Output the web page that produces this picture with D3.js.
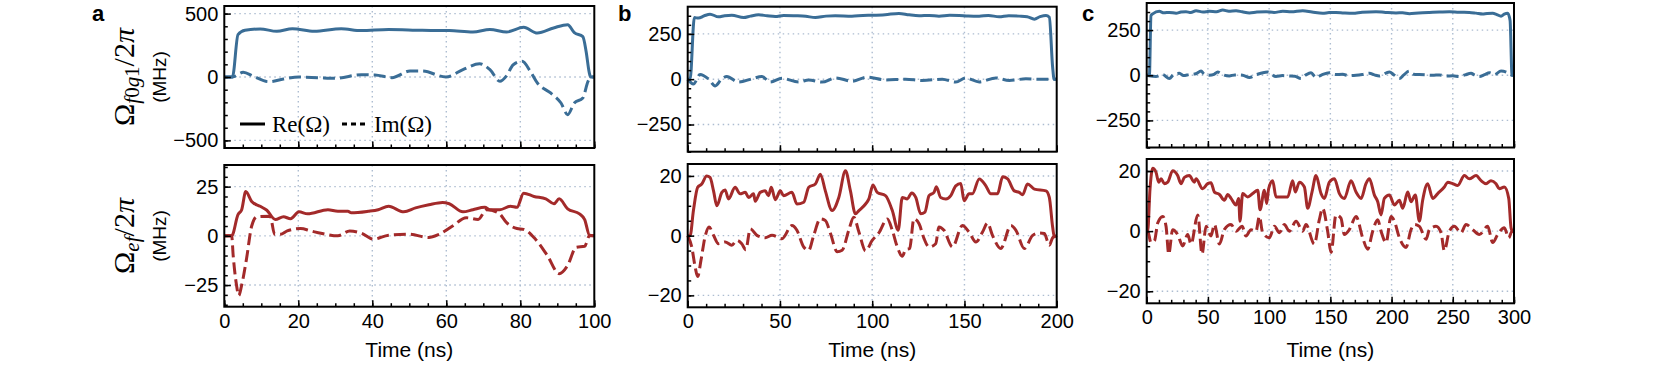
<!doctype html>
<html>
<head>
<script src="https://cdnjs.cloudflare.com/ajax/libs/d3/7.8.5/d3.min.js"></script>
<style>
  body { margin: 0; background: #fff; }
  svg { display: block; font-family: "Liberation Sans", Arial, sans-serif; }
  .grid { stroke: #adbdd1; stroke-width: 1.4; stroke-dasharray: 1.5 3.5; fill: none; }
  .frame { fill: none; stroke: #000; stroke-width: 2; }
  .re { fill: none; stroke-width: 3; }
  .im { fill: none; stroke-width: 3; stroke-dasharray: 12 5; }
  .tick line { stroke: #000; stroke-width: 1.5; }
</style>
</head>
<body>
<svg width="1660" height="368"></svg>
<script>
// ---- data: [time (ns), value (MHz)] ----
var aTopRe = [[0,0],[2.2,0],[3.7,334],[5.6,368],[9.7,379],[14.2,360],[18.4,381],[24.3,360],[31.6,381],[37,366],[44.4,374],[53.5,368],[60.8,366],[67.2,355],[71.8,374],[76.3,355],[80.9,392],[84.6,347],[89,387],[92.8,413],[94.6,350],[96.9,318],[97.8,200],[98.6,40],[99,0],[100,0]];
var aTopIm = [[0,0],[2.2,0],[5.1,37],[7.9,5],[12,-37],[16,-16],[20.2,0],[25.2,-5],[30.2,-10],[37,18],[40.7,16],[45.3,-5],[50.2,47],[53.5,47],[59.9,0],[64.5,58],[69,105],[71.8,58],[74.5,-34],[76.3,10],[78.1,97],[80.5,124],[82.7,45],[84.6,-47],[88.2,-126],[91,-205],[92.8,-297],[94.6,-205],[96.9,-166],[98.3,-34],[99.2,0],[100,0]];
var aBotRe = [[0,0],[2,0],[3.7,10.8],[4.7,13.3],[5.8,22.5],[7.4,17.5],[9.7,15],[11.5,13],[13.8,8.3],[16,9.7],[17.9,8.7],[20.2,12.2],[22.5,11.2],[28,13.3],[30.7,12.5],[33.4,12.5],[34.3,11.7],[38.9,12.5],[41.6,13.3],[44.4,15],[48.5,12.2],[51.7,14.2],[55.3,15.8],[59,17],[60.8,16.3],[64.5,12.2],[67.2,13.3],[70.4,14.5],[71.8,13.3],[74.5,13.3],[77.3,15],[79.1,14.5],[80.9,21.7],[83.7,20],[86.9,18.8],[89.1,16.3],[90.5,18.8],[92.8,13.7],[96,11.2],[97.4,8.3],[98.7,0.3],[100,0]];
var aBotIm = [[0,0],[2,0],[2.4,-10],[3.3,-25],[3.9,-30.3],[4.7,-25],[6,-11.7],[7.4,5],[8.8,9.7],[12.4,10],[13.6,0.8],[15.2,0.8],[17,2.5],[20.6,3.7],[23.4,2.5],[26.1,1.3],[30.7,0],[33.9,2.5],[37.1,1.3],[40.3,-1.7],[44.4,0.3],[49.9,0.8],[55.3,-0.8],[58,0.8],[61.7,5],[65.4,9.2],[68.6,8.3],[70.9,13.3],[74.1,11.7],[76.3,6.7],[79.1,3.7],[80.9,3.3],[84.1,-1.7],[87.3,-10],[90.5,-19.2],[92.8,-15],[95.1,-5.8],[97.4,-5.3],[98.7,0],[100,0]];

var bTopRe = [[0,0],[1.3,0],[3.6,340],[5.8,337],[9,350],[12.1,359],[16.7,344],[20,350],[23.9,353],[30.3,340],[34,348],[38.4,355],[43,350],[47.5,346],[52,352],[58.3,350],[64,347],[69.2,340],[75,348],[80,350],[89,348],[95,352],[100,353],[107,356],[114.5,363],[120,355],[125.4,350],[131,352],[136.2,348],[142,353],[147.1,352],[152,349],[158,348],[163,352],[168.8,344],[174,350],[179.7,348],[184,345],[187.9,331],[191,345],[194.2,352],[196,342],[197.8,66],[198.6,0],[200,0]];
var bTopIm = [[0,0],[3.1,-26],[6.7,26],[11.2,2],[14.9,-37],[18.5,2],[21.2,15],[27.5,-16],[34.8,2],[40.2,15],[44.7,-16],[51.1,5],[60.1,-16],[65.6,-4],[72.8,-16],[80.1,7],[89.1,-11],[97.3,11],[107.2,-4],[118.1,0],[127.2,-7],[138,0],[145.3,-16],[150.7,7],[158,-15],[167,7],[174.3,-7],[183.3,2],[190.6,0],[199.6,0],[200,0]];
var bBotRe = [[0,0],[1.3,0],[3.1,8.4],[5.4,16.2],[7.6,17.3],[10.3,20],[12.1,19.5],[14,15],[15.8,10],[18.5,14.5],[20.3,15.3],[22.1,12.3],[25.7,16.2],[28.4,14],[31.2,14.5],[33,12.8],[35.7,14],[36.6,11.5],[39.3,14.5],[42,15],[43.8,13.4],[45.3,16.2],[47.5,12],[50.2,15],[52,13.4],[56.5,14.5],[59.2,10.6],[62.9,11.2],[65.6,16.2],[69.2,17.3],[71.9,20.6],[74.6,15],[78.3,8.4],[81.9,12.8],[85.5,21.7],[88.2,15],[90.9,7.3],[92.8,8.4],[96.4,10.6],[98.2,12.3],[100.4,17],[102.7,14.5],[107.2,13.4],[110.9,8.4],[114.1,1.8],[116.3,12.8],[119,12.3],[121.4,14.3],[123.6,12.8],[126.3,7.3],[128.6,7.9],[130.8,13.4],[133.5,14.5],[134.8,16.4],[137.1,12.8],[139.9,12.3],[142.6,13.4],[145.3,16.7],[148,17.5],[149.8,11.7],[152.5,14],[154.3,14],[158,19],[161.6,16.7],[164.3,14],[167.9,14],[170.7,19.7],[173.4,19],[177,15],[179.7,14.5],[181.5,13.7],[184.2,17.3],[187.9,15.6],[194.2,15],[196,12.8],[197.8,2.9],[198.7,-0.4],[200,0]];
var bBotIm = [[0,0],[2.2,-3.8],[4,-10.4],[5.4,-13.7],[7.2,-8.2],[9.4,-0.4],[11.6,2.9],[14,0.1],[16.7,-2.7],[20.3,-2.1],[23.9,-3.2],[26.6,-1.6],[29.3,-2.7],[31.5,-4.7],[33.9,2.3],[37.5,0.1],[42,-0.7],[45.7,0.1],[51.1,-1],[56.5,3.4],[59.2,1.8],[62.9,-3.8],[65.6,-4.9],[68.3,0.1],[71.9,5.6],[74.6,5.1],[77.4,0.7],[81,-5.4],[83.7,-4.9],[87.3,1.8],[90,6.2],[92.8,1.2],[96.4,-5.1],[100,-1.6],[103.6,0.9],[108.2,5.6],[110.9,1.8],[113.6,-3.8],[116.3,-6.9],[118.1,-4.7],[120.3,-4.3],[122.6,5.6],[125.4,4],[128.1,-1],[130.8,-3.8],[134.4,-2.7],[136.2,2.9],[138.9,1.8],[143.5,-3.8],[148.9,3.4],[152.5,1.2],[156.2,-2.1],[159.8,1.2],[162.5,4.2],[165.2,0.1],[169.7,-4.3],[175.2,3.4],[177.9,1.8],[182.4,-4.3],[187,0.1],[190.6,0.9],[193.3,0.7],[196,-3.2],[197.8,-0.7],[199.6,0],[200,0]];

var cTopRe = [[0,0],[2.2,0],[3.5,330],[4.9,340],[10.3,354],[14,346],[18.5,348],[24,343],[28,350],[32.1,352],[36,347],[40.3,357],[46,350],[51.2,354],[57,352],[62.1,361],[67,355],[73,357],[78,351],[83.9,345],[90,350],[97.5,352],[104,348],[111.1,354],[118,351],[127.4,357],[135,350],[143.7,343],[149,347],[154.6,348],[161,345],[168.3,343],[176,349],[187.3,352],[195,348],[203.6,345],[209,346],[214.5,341],[222,345],[230.9,348],[239,350],[247.2,352],[255,349],[263.5,348],[269,344],[274.4,339],[278,342],[282.6,343],[286,336],[289.4,327],[292,338],[294.8,343],[296.8,303],[298.4,0],[300,0]];
var cTopIm = [[0,0],[2,-3],[7.6,-7],[13,4],[18.5,-18],[22,4],[26.7,11],[30,-2],[34.8,4],[40,8],[44.4,23],[47,6],[51.2,0],[55,5],[58,18],[62,4],[67.5,-4],[72,2],[78.4,0],[83.9,-13],[89,2],[94,12],[98.8,18],[105.6,-7],[111,-2],[116.5,-4],[121,-6],[126,-18],[130,2],[134.2,14],[138.3,-13],[143,2],[149.2,14],[154,4],[160.1,5],[165,-2],[171,0],[176,4],[181.9,11],[186,2],[190,-4],[198.2,18],[202,2],[206.4,-18],[210,2],[214.5,23],[218,6],[222.7,4],[228,2],[233.6,0],[239,2],[244.5,-4],[250,-3],[255.4,-7],[260,2],[264.9,11],[268,0],[271.7,-7],[276,3],[279.9,14],[284,4],[289.4,23],[294.8,14],[298.4,0],[300,0]];
var cBotRe = [[0,0],[0.8,0],[2.7,14],[4.9,20.9],[7.6,19.6],[9.8,16.3],[11.7,17.4],[14.4,15.8],[17.2,16.3],[21.2,20.1],[25.3,18.5],[28,15.8],[30.8,17.9],[34.8,18.5],[38.9,16.3],[40.3,17.4],[45.7,14.1],[49.8,15.8],[52.5,16.1],[55.3,13],[59.4,12.2],[63.4,10.3],[66.2,12.2],[68.9,10.9],[73,8.7],[75.1,10.9],[76.2,3.3],[78.4,12.5],[82.5,11.4],[86.6,12.5],[90.7,13.6],[92.6,7.1],[96.1,13.6],[98,9.2],[99.6,14.1],[102.9,16.8],[105.6,11.4],[111.1,11.4],[115.2,11.4],[119.2,16.8],[121.4,13],[124.7,16.3],[128.8,14.7],[131.5,7.6],[135,13],[138.3,18.5],[142.4,12.5],[145.1,10.9],[149.2,16.3],[153.3,17.4],[157.4,12.5],[161.4,10.9],[166.9,16.8],[171,13],[175.1,10.9],[179.1,15.8],[181.9,17.4],[186,12],[188.7,9.8],[191.4,5.4],[194.1,10.9],[198.2,12],[202.3,8.7],[206.4,10.3],[209.1,7.6],[213.2,13],[215.9,9.8],[219.4,12],[222.7,3.3],[225.4,10.3],[229.5,15.8],[233.6,10.9],[237.7,12.5],[243.1,14.7],[245.9,16.3],[249.9,15.8],[254,15.2],[259.5,18.5],[263.5,17.4],[269,18.5],[273.1,16.8],[277.2,15.8],[281.2,16.8],[285.3,15.8],[288,14.1],[292.1,14.7],[295.7,10.9],[297.6,1.1],[298.9,0],[300,0]];
var cBotIm = [[0,0],[0.8,0],[3.5,-3.8],[6.3,-3.3],[9,2.7],[13.1,4.9],[15.8,1.6],[18,-7.6],[21.2,0.5],[25.3,-1.1],[29.4,-4.9],[33.5,-1.1],[36.2,-4.3],[41.7,5.4],[45.2,-7.6],[48.5,1.6],[52.5,-1.6],[55.3,2.2],[59.4,-4.3],[63.4,0.5],[68.9,2.2],[73,0],[77.9,1.6],[81.1,-1.6],[85.2,0.5],[89.3,0],[92,4.9],[94.7,-0.5],[100.2,-2.2],[104.3,1.6],[108.4,-0.5],[112.4,2.2],[116.5,0],[122,3.3],[127.4,0],[130.1,2.2],[136.9,-4.3],[141,3.8],[143.7,7.6],[147.8,0],[150.6,-7.1],[154.6,5.4],[158.7,4.3],[161.4,-1.1],[165.5,0.5],[171,4.9],[176.4,-2.2],[180.5,-6],[184.6,0],[188.7,3.8],[191.4,0],[195.5,-3.8],[199.6,4.9],[202.3,3.3],[206.4,-2.2],[211.8,-5.4],[215.9,0.5],[218.7,2.2],[222.7,1.6],[228.2,-2.7],[230.9,0.5],[236.3,1.6],[240.4,-0.5],[243.1,-6.5],[247.2,0],[251.3,1.6],[256.7,-0.5],[260.8,2.2],[266.3,0.5],[271.7,-1.1],[278.5,1.6],[282.6,-3.8],[286.7,-1.1],[292.1,1.1],[295.7,-2.2],[298.4,0],[300,0]];

// tick values
var aXTicks = [0, 20, 40, 60, 80, 100];
var bcXTicks = [0, 50, 100, 150, 200, 250, 300];
var aTopYTicks = [-500, 0, 500];
var bcTopYTicks = [-250, 0, 250];
var aBotYTicks = [-25, 0, 25];
var bcBotYTicks = [-20, 0, 20];

var blue = "#3a6d96", red = "#a32a2a";
var svg = d3.select("svg");

function drawPanel(p) {
  var x = d3.scaleLinear().domain(p.xDomain).range([p.left, p.right]);
  var y = d3.scaleLinear().domain(p.yDomain).range([p.bottom, p.top]);
  var g = svg.append("g");
  var xMaj = p.xTicks.filter(v => v >= p.xDomain[0] && v <= p.xDomain[1]);

  // grid
  g.selectAll(null).data(xMaj.filter(v => v > p.xDomain[0] && v < p.xDomain[1])).join("line")
    .attr("class", "grid").attr("x1", d => x(d)).attr("x2", d => x(d))
    .attr("y1", p.top).attr("y2", p.bottom);
  g.selectAll(null).data(p.yTicks).join("line")
    .attr("class", "grid").attr("y1", d => y(d)).attr("y2", d => y(d))
    .attr("x1", p.left).attr("x2", p.right);

  var line = d3.line().x(d => x(d[0])).y(d => y(d[1])).curve(d3.curveMonotoneX);
  g.append("path").datum(p.im).attr("class", "im").attr("stroke", p.color).attr("d", line);
  g.append("path").datum(p.re).attr("class", "re").attr("stroke", p.color).attr("d", line);

  // axes, ticks inward
  var xMinor = d3.range(p.xDomain[0], p.xDomain[1] + 1e-9, p.xMinor);
  var yMinor = d3.range(Math.ceil(p.yDomain[0] / p.yMinor) * p.yMinor, p.yDomain[1], p.yMinor);
  var fix = s => s.attr("font-size", 20).attr("font-family", "'Liberation Sans', Arial, sans-serif")
                  .call(a => a.select(".domain").remove());
  g.append("g").attr("transform", "translate(0," + p.bottom + ")")
    .call(d3.axisBottom(x).tickValues(xMinor).tickSize(-3.5).tickFormat("")).call(fix);
  g.append("g").attr("transform", "translate(0," + p.bottom + ")")
    .call(d3.axisBottom(x).tickValues(xMaj).tickSize(-6.5).tickPadding(7)
      .tickFormat(p.xLabels ? d3.format("d") : "")).call(fix);
  g.append("g").attr("transform", "translate(" + p.left + ",0)")
    .call(d3.axisLeft(y).tickValues(yMinor).tickSize(-3.5).tickFormat("")).call(fix);
  g.append("g").attr("transform", "translate(" + p.left + ",0)")
    .call(d3.axisLeft(y).tickValues(p.yTicks).tickSize(-6.5).tickPadding(6)).call(fix);

  g.append("rect").attr("class", "frame")
    .attr("x", p.left).attr("y", p.top)
    .attr("width", p.right - p.left).attr("height", p.bottom - p.top);

  if (p.xLabels) {
    g.append("text").attr("x", (p.left + p.right) / 2).attr("y", 357)
      .attr("text-anchor", "middle").attr("font-size", 21).text("Time (ns)");
  }
}

// panel a
drawPanel({left: 224.3, right: 594.3, top: 6, bottom: 148, xDomain: [0, 100], yDomain: [-560, 560],
  xTicks: aXTicks, xMinor: 5, yTicks: aTopYTicks, yMinor: 100, re: aTopRe, im: aTopIm, color: blue});
drawPanel({left: 224.3, right: 594.3, top: 165, bottom: 306.7, xDomain: [0, 100], yDomain: [-36, 36],
  xTicks: aXTicks, xMinor: 5, yTicks: aBotYTicks, yMinor: 5, re: aBotRe, im: aBotIm, color: red, xLabels: true});
// panel b
drawPanel({left: 687.7, right: 1056.7, top: 6.7, bottom: 151.7, xDomain: [0, 200], yDomain: [-400, 400],
  xTicks: bcXTicks, xMinor: 10, yTicks: bcTopYTicks, yMinor: 50, re: bTopRe, im: bTopIm, color: blue});
drawPanel({left: 687.7, right: 1056.7, top: 164, bottom: 307.3, xDomain: [0, 200], yDomain: [-24, 24],
  xTicks: bcXTicks, xMinor: 10, yTicks: bcBotYTicks, yMinor: 5, re: bBotRe, im: bBotIm, color: red, xLabels: true});
// panel c
drawPanel({left: 1146.7, right: 1514, top: 3, bottom: 147.5, xDomain: [0, 300], yDomain: [-400, 400],
  xTicks: bcXTicks, xMinor: 10, yTicks: bcTopYTicks, yMinor: 50, re: cTopRe, im: cTopIm, color: blue});
drawPanel({left: 1146.7, right: 1514, top: 159, bottom: 303.3, xDomain: [0, 300], yDomain: [-24, 24],
  xTicks: bcXTicks, xMinor: 10, yTicks: bcBotYTicks, yMinor: 5, re: cBotRe, im: cBotIm, color: red, xLabels: true});

// y labels (panel a only)
function mathLabel(cx, cy, sub) {
  var t = svg.append("text")
    .attr("transform", "translate(" + cx + "," + cy + ") rotate(-90)")
    .attr("text-anchor", "middle")
    .attr("font-family", "'Liberation Serif', 'DejaVu Serif', serif").attr("font-size", 30);
  t.append("tspan").text("Ω");
  var first = true;
  sub.forEach(function (s) {
    var ts = t.append("tspan").attr("font-size", 21).text(s[0]);
    if (s[1]) ts.attr("font-style", "italic");
    if (first) { ts.attr("dy", 5); first = false; }
  });
  t.append("tspan").attr("dy", -5).text("/2");
  t.append("tspan").attr("font-style", "italic").text("π");
}
mathLabel(134, 77, [["f", 1], ["0", 0], ["g", 1], ["1", 0]]);
mathLabel(134, 236, [["e", 1], ["f", 1]]);
svg.append("text").attr("transform", "translate(166,77) rotate(-90)")
  .attr("text-anchor", "middle").attr("font-size", 19).text("(MHz)");
svg.append("text").attr("transform", "translate(166,236) rotate(-90)")
  .attr("text-anchor", "middle").attr("font-size", 19).text("(MHz)");

// legend in panel a (top)
svg.append("line").attr("x1", 240).attr("x2", 265).attr("y1", 124).attr("y2", 124)
  .attr("stroke", "#000").attr("stroke-width", 3);
svg.append("text").attr("x", 272).attr("y", 132)
  .attr("font-family", "'Liberation Serif', serif").attr("font-size", 23).text("Re(Ω)");
svg.append("line").attr("x1", 342).attr("x2", 367).attr("y1", 124).attr("y2", 124)
  .attr("stroke", "#000").attr("stroke-width", 3).attr("stroke-dasharray", "5 4");
svg.append("text").attr("x", 374).attr("y", 132)
  .attr("font-family", "'Liberation Serif', serif").attr("font-size", 23).text("Im(Ω)");

// panel letters
[["a", 92], ["b", 618], ["c", 1082]].forEach(function (l) {
  svg.append("text").attr("x", l[1]).attr("y", 21)
    .attr("font-size", 22).attr("font-weight", "bold").text(l[0]);
});
</script>
</body>
</html>
